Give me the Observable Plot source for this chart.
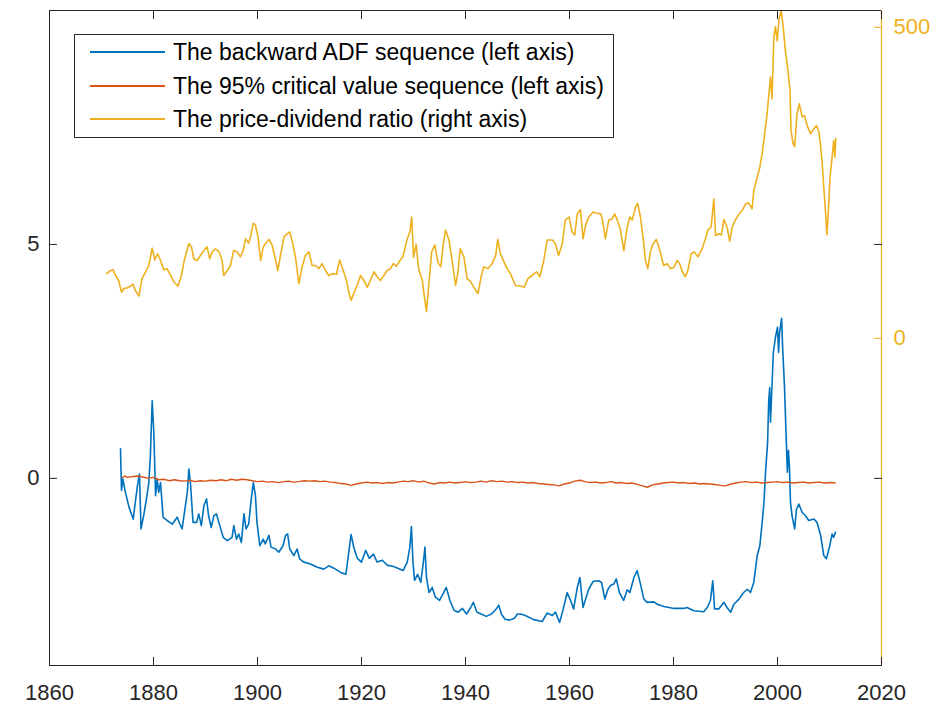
<!DOCTYPE html>
<html><head><meta charset="utf-8">
<script src="https://cdn.jsdelivr.net/npm/d3@7"></script>
<script src="https://cdn.jsdelivr.net/npm/@observablehq/plot@0.6"></script>
<style>
body{margin:0;background:#fff;}
#wrap{position:relative;width:935px;height:709px;}
#legend{position:absolute;left:74px;top:34px;width:538px;height:102px;border:1px solid #262626;background:#fff;font-family:"Liberation Sans",Arial,Helvetica,sans-serif;font-size:23px;color:#000;}
.row{position:absolute;left:0;height:30px;display:flex;align-items:center;white-space:nowrap;}
.sw{display:inline-block;width:75px;height:2px;margin-left:15px;margin-right:8px;}
</style></head>
<body><div id="wrap"></div>
<script>
// ---- categories / ticks ----
const xTicks = [1860, 1880, 1900, 1920, 1940, 1960, 1980, 2000, 2020];
const leftTicks = [0, 5];
const rightTicks = [0, 500];
const xDomain = [1860, 2020];
const leftDomain = [-4, 10];
const rightDomain = [-526, 527];
const seriesNames = [
  "The backward ADF sequence (left axis)",
  "The 95% critical value sequence (left axis)",
  "The price-dividend ratio (right axis)"
];

// ---- backward ADF sequence (left axis) ----
const adfYear = [1873.65,1873.85,1874.1,1874.6,1875.3,1876.1,1876.5,1877.0,1877.3,1877.6,1878.1,1878.65,1879.1,1879.4,1879.75,1880.06,1880.4,1880.7,1881.0,1881.35,1881.85,1882.6,1883.6,1884.55,1885.1,1885.5,1886.0,1886.5,1886.8,1887.1,1887.6,1888.3,1888.7,1889.2,1889.7,1890.2,1890.6,1891.1,1891.6,1892.1,1892.75,1893.4,1894.2,1895.1,1895.45,1895.95,1896.4,1896.9,1897.4,1897.8,1898.3,1898.8,1899.2,1899.6,1899.9,1900.45,1901.1,1901.5,1902.2,1902.6,1903.5,1904.1,1904.9,1905.4,1905.8,1906.2,1907.0,1907.6,1908.1,1908.9,1910.2,1911.5,1912.75,1913.7,1914.7,1916.0,1917.0,1917.6,1918.0,1918.5,1919.2,1920.0,1920.8,1921.5,1922.3,1923.0,1924.0,1925.0,1926.0,1927.0,1928.0,1928.8,1929.3,1929.6,1929.9,1930.2,1930.8,1931.4,1931.9,1932.2,1932.5,1933.0,1933.6,1934.2,1935.0,1935.8,1936.3,1937.0,1937.8,1938.6,1939.4,1940.2,1941.0,1941.5,1942.2,1943.0,1944.0,1945.0,1946.0,1946.4,1946.9,1947.6,1948.5,1949.4,1950.0,1950.6,1951.5,1953.1,1954.75,1955.7,1956.7,1957.3,1958.1,1958.8,1959.55,1960.2,1960.8,1961.5,1962.0,1962.6,1963.1,1963.7,1964.55,1965.6,1966.15,1966.8,1967.4,1967.9,1968.5,1969.0,1969.6,1970.4,1971.1,1971.6,1972.4,1973.0,1973.65,1974.3,1974.9,1976.2,1976.9,1978.15,1980.1,1982.0,1982.6,1983.9,1985.8,1986.5,1987.1,1987.55,1987.9,1988.7,1989.7,1990.3,1991.0,1991.6,1992.6,1993.5,1994.2,1994.8,1995.45,1996.1,1996.6,1997.05,1997.4,1997.7,1998.1,1998.3,1998.5,1998.65,1998.85,1999.2,1999.6,2000.0,2000.2,2000.4,2000.8,2000.95,2001.35,2001.7,2001.9,2002.1,2002.3,2002.5,2002.8,2003.3,2003.65,2004.1,2004.75,2005.4,2006.0,2007.0,2007.6,2008.3,2008.9,2009.4,2010.05,2010.5,2010.8,2011.15];
const adfValue = [0.63,-0.26,-0.01,-0.3,-0.62,-0.87,-0.51,-0.09,0.09,-1.08,-0.8,-0.44,-0.09,0.48,1.66,0.98,-0.37,-0.01,-0.3,-0.09,-0.83,-0.9,-0.98,-0.83,-0.98,-1.08,-0.69,-0.3,0.2,-0.09,-0.94,-0.94,-0.76,-1.01,-0.58,-0.44,-0.8,-1.05,-0.8,-0.76,-1.01,-1.26,-1.33,-1.26,-1.01,-1.3,-1.19,-1.37,-0.76,-1.08,-0.98,-0.44,-0.09,-0.37,-0.94,-1.44,-1.3,-1.4,-1.22,-1.47,-1.51,-1.58,-1.44,-1.22,-1.19,-1.51,-1.65,-1.51,-1.72,-1.79,-1.83,-1.9,-1.94,-1.87,-1.92,-2.01,-2.05,-1.54,-1.2,-1.47,-1.71,-1.79,-1.54,-1.71,-1.62,-1.79,-1.75,-1.86,-1.88,-1.92,-1.97,-1.79,-1.47,-1.03,-1.79,-2.18,-2.05,-2.22,-1.79,-1.47,-2.12,-2.44,-2.33,-2.54,-2.61,-2.44,-2.33,-2.61,-2.82,-2.86,-2.78,-2.9,-2.76,-2.65,-2.86,-2.9,-2.95,-2.9,-2.78,-2.71,-2.9,-3.01,-3.03,-2.99,-2.9,-2.9,-2.93,-3.02,-3.06,-2.88,-2.93,-2.86,-3.08,-2.79,-2.44,-2.61,-2.79,-2.33,-2.12,-2.76,-2.58,-2.37,-2.2,-2.19,-2.22,-2.58,-2.37,-2.29,-2.26,-2.15,-2.44,-2.61,-2.38,-2.44,-2.12,-1.97,-2.26,-2.58,-2.65,-2.64,-2.69,-2.74,-2.78,-2.78,-2.76,-2.83,-2.85,-2.76,-2.61,-2.19,-2.79,-2.79,-2.65,-2.76,-2.86,-2.69,-2.58,-2.44,-2.37,-2.44,-2.22,-1.65,-1.44,-0.94,-0.51,0.13,0.77,1.62,1.94,1.2,1.73,2.69,3.01,3.23,2.69,3.12,3.42,2.9,1.94,0.77,0.13,0.6,0.23,-0.51,-0.8,-1.08,-0.66,-0.55,-0.73,-0.8,-0.9,-0.87,-0.94,-1.22,-1.65,-1.72,-1.44,-1.19,-1.26,-1.15];

// ---- 95% critical value sequence (left axis) ----
const cvYear = [1874,1874.5,1875,1876,1877,1878,1879,1880,1881,1882,1883,1884,1885,1886,1887,1888,1889,1890,1891,1892,1893,1894,1895,1896,1897,1898,1899,1900,1901,1902,1903,1904,1905,1906,1907,1908,1909,1910,1911,1912,1913,1914,1915,1916,1917,1918,1919,1920,1921,1922,1923,1924,1925,1926,1927,1928,1929,1930,1931,1932,1933,1934,1935,1936,1937,1938,1939,1940,1941,1942,1943,1944,1945,1946,1947,1948,1949,1950,1951,1952,1953,1954,1955,1956,1957,1958,1959,1960,1961,1962,1963,1964,1965,1966,1967,1968,1969,1970,1971,1972,1973,1974,1975,1976,1977,1978,1979,1980,1981,1982,1983,1984,1985,1986,1987,1988,1989,1990,1991,1992,1993,1994,1995,1996,1997,1998,1999,2000,2001,2002,2003,2004,2005,2006,2007,2008,2009,2010,2011.1];
const cvValue = [0.02,0.05,0.02,0.04,0.05,0.03,0.0,0.02,-0.03,-0.02,-0.05,-0.03,-0.05,-0.06,-0.04,-0.07,-0.05,-0.06,-0.04,-0.05,-0.03,-0.05,-0.02,-0.04,-0.02,-0.03,-0.05,-0.07,-0.06,-0.08,-0.07,-0.09,-0.07,-0.06,-0.08,-0.07,-0.05,-0.06,-0.05,-0.07,-0.06,-0.08,-0.09,-0.11,-0.12,-0.15,-0.12,-0.1,-0.08,-0.1,-0.09,-0.11,-0.09,-0.1,-0.08,-0.06,-0.07,-0.05,-0.08,-0.06,-0.1,-0.12,-0.09,-0.1,-0.08,-0.1,-0.09,-0.07,-0.09,-0.08,-0.06,-0.08,-0.05,-0.07,-0.06,-0.08,-0.07,-0.09,-0.08,-0.1,-0.09,-0.11,-0.12,-0.13,-0.14,-0.16,-0.12,-0.1,-0.06,-0.04,-0.07,-0.09,-0.08,-0.1,-0.09,-0.07,-0.1,-0.09,-0.11,-0.1,-0.13,-0.16,-0.19,-0.14,-0.12,-0.1,-0.09,-0.08,-0.1,-0.09,-0.11,-0.1,-0.12,-0.11,-0.12,-0.13,-0.15,-0.16,-0.12,-0.1,-0.08,-0.07,-0.09,-0.08,-0.1,-0.09,-0.08,-0.07,-0.09,-0.08,-0.1,-0.09,-0.08,-0.1,-0.09,-0.08,-0.1,-0.09,-0.1];

// ---- price-dividend ratio (right axis) ----
const pdYear = [1870.96,1871.7,1872.25,1872.7,1873.3,1873.85,1874.3,1874.9,1875.6,1876.1,1876.5,1877.2,1877.8,1878.5,1879.1,1879.75,1880.25,1880.8,1881.35,1882.0,1882.6,1883.3,1883.9,1884.7,1885.3,1886.0,1886.8,1887.3,1887.75,1888.4,1889.0,1889.7,1890.3,1890.8,1891.3,1891.9,1892.6,1893.2,1893.5,1894.2,1894.8,1895.4,1896.1,1896.7,1897.25,1897.7,1898.3,1898.65,1899.2,1899.6,1900.1,1900.6,1901.1,1901.5,1902.2,1902.8,1903.5,1903.9,1904.55,1905.1,1905.7,1906.2,1906.7,1907.3,1907.95,1908.6,1909.2,1909.9,1910.5,1911.15,1911.8,1912.4,1913.1,1913.7,1914.4,1915.2,1915.8,1916.5,1917.1,1917.6,1918.0,1918.5,1919.3,1919.8,1920.45,1921.1,1921.7,1922.4,1923.0,1923.65,1924.3,1924.9,1925.6,1926.1,1926.7,1927.4,1928.0,1928.8,1929.3,1929.65,1930.0,1930.5,1931.0,1931.7,1932.1,1932.5,1932.9,1933.5,1934.1,1934.7,1935.25,1935.7,1936.15,1936.8,1937.45,1938.1,1938.5,1939.0,1939.7,1940.3,1941.0,1941.6,1942.4,1943.0,1943.5,1944.3,1945.1,1945.8,1946.2,1946.7,1947.4,1948.0,1948.65,1949.6,1950.6,1951.3,1952.0,1952.8,1953.65,1954.3,1955.05,1955.7,1956.7,1957.3,1957.9,1958.6,1959.2,1959.9,1960.5,1961.0,1961.5,1962.1,1962.6,1963.1,1963.7,1964.55,1965.3,1966.0,1966.3,1966.9,1967.55,1968.2,1968.7,1969.2,1969.8,1970.45,1971.1,1971.6,1972.05,1972.7,1973.1,1973.65,1974.2,1974.6,1975.05,1975.6,1976.1,1976.7,1977.4,1978.1,1978.8,1979.4,1980.05,1980.7,1981.2,1981.7,1982.3,1982.75,1983.4,1984.0,1984.7,1985.5,1986.15,1986.6,1987.25,1987.75,1988.1,1988.7,1989.2,1989.7,1990.3,1990.8,1991.3,1991.9,1992.6,1993.2,1993.85,1994.4,1995.1,1995.45,1996.1,1996.6,1997.05,1997.7,1998.0,1998.65,1998.95,1999.3,1999.6,1999.95,2000.25,2000.7,2001.1,2001.5,2002.0,2002.4,2002.6,2003.0,2003.3,2003.75,2004.2,2004.75,2005.2,2005.7,2006.35,2007.0,2007.5,2007.95,2008.3,2008.6,2008.9,2009.3,2009.5,2009.75,2010.1,2010.5,2010.8,2011.05,2011.2];
const pdValue = [104,109,110,101,93,74,80,81,84,87,77,68,96,107,117,145,126,136,125,110,112,101,91,84,99,128,152,147,128,125,133,141,147,128,139,144,139,125,101,109,117,141,139,131,141,160,153,163,185,182,163,125,147,152,159,150,125,109,139,163,168,171,155,131,88,115,133,139,117,117,112,120,109,101,104,103,126,109,93,72,61,72,88,101,93,82,93,107,99,93,101,109,112,120,116,125,132,160,171,195,130,151,111,93,66,43,82,139,150,122,115,150,174,159,123,85,104,144,131,96,91,82,72,99,115,112,120,133,159,136,123,112,104,85,84,82,96,101,107,99,125,158,158,152,133,152,190,195,171,166,200,207,160,182,195,203,201,200,192,160,190,192,200,190,174,141,179,195,190,211,217,195,158,125,112,141,152,159,141,117,120,112,114,125,120,107,99,109,136,139,131,144,160,174,179,224,165,168,166,191,179,156,179,190,200,205,216,218,208,238,259,275,297,340,361,420,385,484,501,478,511,527,501,463,431,399,334,313,308,361,377,356,358,342,329,337,342,332,308,281,243,195,166,200,259,291,318,291,321];

// ---- styles ----
const FONT = '"Liberation Sans", Arial, Helvetica, sans-serif';
const AX = "#262626";
const BLUE = "#0072BD", RED = "#D95319", ORANGE = "#EDB120";

// right-axis values expressed in left-axis units
const span = (d) => d[1] - d[0];
const toL = (r) => leftDomain[0] + (r - rightDomain[0]) / span(rightDomain) * span(leftDomain);
const fromL = (l) => rightDomain[0] + (l - leftDomain[0]) / span(leftDomain) * span(rightDomain);

const adf = adfYear.map((year, i) => ({year, value: adfValue[i]}));
const cv = cvYear.map((year, i) => ({year, value: cvValue[i]}));
const pd = pdYear.map((year, i) => ({year, value: pdValue[i]}));

const plot = Plot.plot({
  width: 935, height: 709,
  marginLeft: 49, marginRight: 54, marginTop: 10, marginBottom: 44,
  x: {domain: xDomain},
  y: {domain: leftDomain},
  style: {fontFamily: FONT, fontSize: "22px", color: AX, background: "white", overflow: "visible"},
  marks: [
    Plot.lineY(pd, {x: "year", y: d => toL(d.value), stroke: ORANGE, strokeWidth: 1.6}),
    Plot.lineY(adf, {x: "year", y: "value", stroke: BLUE, strokeWidth: 1.6}),
    Plot.lineY(cv, {x: "year", y: "value", stroke: RED, strokeWidth: 1.4}),
    Plot.frame({stroke: AX, strokeWidth: 1}),
    Plot.ruleX([xDomain[1]], {stroke: ORANGE, strokeWidth: 1.2}),
    Plot.axisX({anchor: "bottom", ticks: xTicks, tickSize: -8, tickPadding: 27, tickFormat: d => String(d), label: null, color: AX, fontSize: 22}),
    Plot.axisX({anchor: "top", ticks: xTicks, tickSize: -8, tickFormat: () => "", label: null, color: AX}),
    Plot.axisY({anchor: "left", ticks: leftTicks, tickSize: -8, tickPadding: 18, tickFormat: d => String(d), label: null, color: AX, fontSize: 22}),
    Plot.axisY({anchor: "right", ticks: leftTicks, tickSize: -8, tickFormat: () => "", label: null, color: AX}),
    Plot.axisY({anchor: "right", ticks: rightTicks.map(toL), tickSize: -8, tickPadding: 20, tickFormat: v => String(Math.round(fromL(v))), label: null, color: ORANGE, fontSize: 22})
  ]
});

const wrap = document.getElementById("wrap");
wrap.appendChild(plot);

// legend box drawn inside the axes area (as in the original)
const legend = document.createElement("div");
legend.id = "legend";
const colors = [BLUE, RED, ORANGE];
const rowTops = [2, 36, 69];
seriesNames.forEach((name, i) => {
  const row = document.createElement("div");
  row.className = "row";
  row.style.top = rowTops[i] + "px";
  const sw = document.createElement("span");
  sw.className = "sw";
  sw.style.background = colors[i];
  const t = document.createElement("span");
  t.textContent = name;
  row.appendChild(sw);
  row.appendChild(t);
  legend.appendChild(row);
});
wrap.appendChild(legend);
</script>
</body></html>
